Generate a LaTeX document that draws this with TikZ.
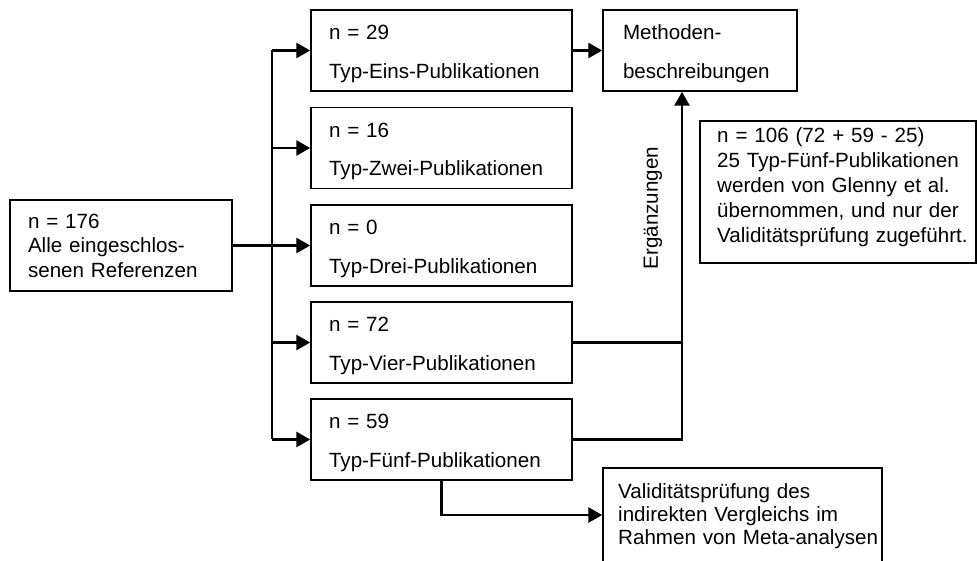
\documentclass[tikz,border=0pt]{standalone}
\usepackage{fontspec}
\setmainfont{Liberation Sans}
\usetikzlibrary{arrows.meta}
% strut that lifts the first of two lines in the small boxes
\newcommand\firstrow{\rule{0pt}{21.4pt}}
\begin{document}
\begin{tikzpicture}[x=1pt,y=-1pt,
  every node/.style={font=\fontsize{20.6}{38.4}\selectfont, inner sep=0pt},
  box/.style={draw, line width=1.5pt, rectangle},
  pubbox/.style={box, minimum width=261pt, minimum height=81pt,
    text width=225pt, inner xsep=18pt, align=left},
  conn/.style={line width=2.8pt},
  arr/.style={conn, -{Triangle[length=14pt,width=15pt]}}]
\useasboundingbox (0,0) rectangle (978,561);
\fill[white] (0,0) rectangle (978,561);

% source
\node[box, minimum width=222pt, minimum height=91pt, text width=186pt,
  inner xsep=18pt, align=left, font=\fontsize{20.6}{24.5}\selectfont]
  (L) at (121,245.5) {n = 176\\Alle eingeschlos-\\senen Referenzen};

% the five publication types
\node[pubbox] (b1) at (441.5,50.5)  {\firstrow n = 29\\Typ-Eins-Publikationen};
\node[pubbox] (b2) at (441.5,148)   {\firstrow n = 16\\Typ-Zwei-Publikationen};
\node[pubbox] (b3) at (441.5,245.5) {\firstrow n = 0\\Typ-Drei-Publikationen};
\node[pubbox] (b4) at (441.5,342.5) {\firstrow n = 72\\Typ-Vier-Publikationen};
\node[pubbox] (b5) at (441.5,439.5) {\firstrow n = 59\\Typ-Fünf-Publikationen};

% method descriptions
\node[box, minimum width=194pt, minimum height=81pt, text width=154pt,
  inner xsep=20pt, align=left] (M) at (700,50.5)
  {\firstrow Methoden-\\beschreibungen};

% note box
\node[box, minimum width=276pt, minimum height=142pt] (R) at (838,192) {};
\node[anchor=base west, text width=256pt, align=left,
  font=\fontsize{20.6}{25}\selectfont] (Rt) at (717,143)
  {n = 106 (72 + 59 - 25)\\25 Typ-Fünf-Publikationen\\werden von Glenny et al.\\übernommen, und nur der\\Validitätsprüfung zugeführt.};

% validity check box
\node[box, minimum width=279pt, minimum height=94pt] (V) at (742.5,515) {};
\node[anchor=base west, text width=270pt, align=left,
  font=\fontsize{20.6}{23.5}\selectfont] (Vt) at (618,498)
  {Validitätsprüfung des\\indirekten Vergleichs im\\Rahmen von Meta-analysen};

% branching trunk
\coordinate (trunk) at (272,0);
\draw[conn] (L.east) -- (L.east -| trunk);
\draw[conn] (trunk |- b1.west) -- (trunk |- b5.west);
\foreach \b in {b1,b2,b3,b4,b5}
  \draw[arr] (trunk |- \b.west) -- (\b.west);

\draw[arr] (b1.east) -- (M.west);

% supplements feeding the method descriptions
\coordinate (jx) at (682,0);
\draw[conn] (b4.east) -- (b4.east -| jx);
\draw[arr] (b5.east) -| (jx |- M.south);
\node[rotate=90] (erg) at (653,208) {Ergänzungen};

\draw[arr] (b5.south) |- (V.west);
\end{tikzpicture}
\end{document}
